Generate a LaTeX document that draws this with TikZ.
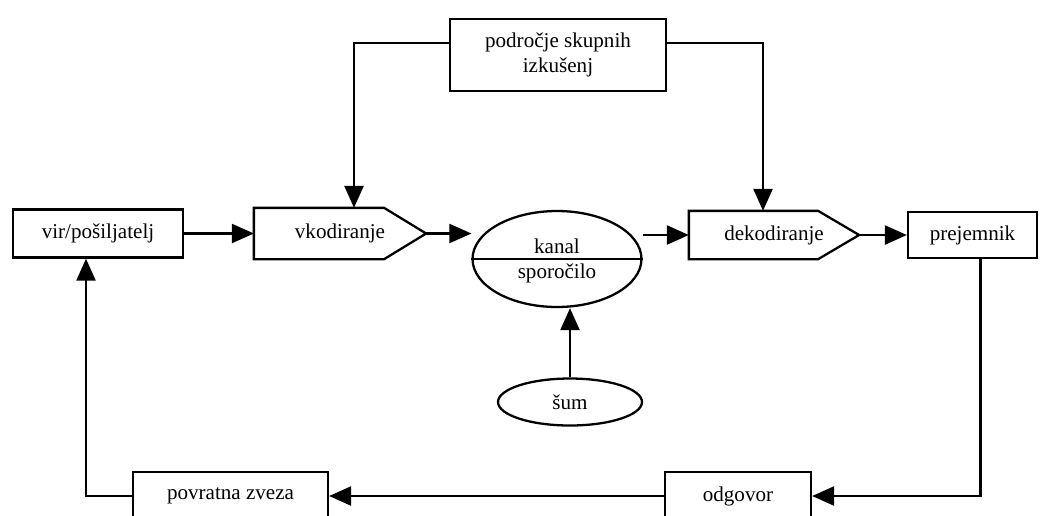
\documentclass[tikz,border=0pt]{standalone}
\usepackage{fontspec}
\setmainfont{Liberation Serif}
\usetikzlibrary{arrows.meta,shapes.geometric}

\begin{document}
\begin{tikzpicture}[x=0.02cm,y=-0.02cm,line width=1.3pt,
	font=\fontsize{12}{14}\selectfont,
	box/.style={draw,rectangle,minimum height=0.96cm,inner sep=2pt},
	pbox/.style={rectangle,minimum height=0.96cm,inner sep=2pt},
	oval/.style={draw,ellipse,inner sep=0pt},
	arr/.style={-{Triangle[length=4.4mm,width=3.8mm]}}]

\useasboundingbox (0,0) rectangle (1041,515);

\node [box,minimum width=3.4cm] (src) at (98,233.5) {vir/pošiljatelj};
\node [pbox,minimum width=3.4cm,minimum height=0.98cm] (enc) at (340,233.5) {vkodiranje};
\node [oval,minimum width=3.38cm,minimum height=1.92cm] (chan) at (557,259) {};
\node [anchor=base] (chantxt) at (557,253) {kanal};
\node [anchor=base] (msgtxt) at (557,278) {sporočilo};
\node [pbox,minimum width=3.36cm,minimum height=0.92cm] (dec) at (774,235) {dekodiranje};
\node [box,minimum width=2.58cm,minimum height=0.92cm] (recv) at (972.5,235) {prejemnik};
\node [box,minimum width=4.32cm,minimum height=1.44cm,align=center] (exp) at (558,55) {področje skupnih\\izkušenj};
\node [oval,minimum width=2.88cm,minimum height=0.94cm] (noise) at (570,402) {šum};
\node [box,minimum width=2.92cm] (resp) at (738,496) {odgovor};
\node [box,minimum width=3.9cm] (fb) at (230.5,496) {povratna zveza};

% arrow-shaped boxes
\foreach \n / \p in {enc/0.84cm, dec/0.82cm}
	\draw (\n.north west) -- ([xshift=-\p]\n.north east) -- (\n.east)
		-- ([xshift=-\p]\n.south east) -- (\n.south west) -- cycle;
\draw (chan.west) -- (chan.east);

\draw [arr] (src) -- (enc);
\draw [arr] (enc.east) -- (enc.east -| chan.west);
\draw [arr] (dec.west -| chan.east) -- (dec.west);
\draw [arr] (dec.east) -- (recv.west);
\draw [arr] ([yshift=0.24cm]exp.west) -| ([xshift=0.28cm]enc.north);
\draw [arr] ([yshift=0.24cm]exp.east) -| ([xshift=-0.22cm]dec.north);
\draw [arr] (noise) -- (noise |- chan.south);
\draw [arr] ([xshift=0.16cm]recv.south) |- (resp.east);
\draw [arr] (resp) -- (fb);
\draw [arr] (fb.west) -| ([xshift=-0.24cm]src.south);

\end{tikzpicture}
\end{document}
